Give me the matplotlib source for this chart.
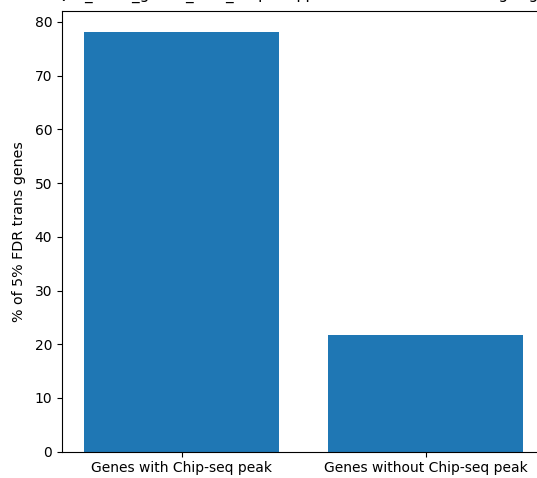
import matplotlib
matplotlib.use('Agg')
from matplotlib import pyplot as plt

categories = ['Genes with Chip-seq peak', 'Genes without Chip-seq peak']
percent = [78.2, 21.8]

fig = plt.figure(figsize=(5.37, 4.78), dpi=100)
ax = fig.add_axes([0.1155, 0.055, 0.9, 0.923])

ax.bar(categories, percent, color='#1f77b4')
ax.set_ylabel('% of 5% FDR trans genes', fontsize=10.3, labelpad=6)
ax.tick_params(labelsize=10)
# title is cut off at the top edge, as in the source image
ax.set_title('Fraction of eQTL_trans_genes_with_Chip-seq peak of 5% FDR trans target genes (n=123),',
             fontsize=11, pad=8.5)

fig.savefig('out.png', dpi=100)
